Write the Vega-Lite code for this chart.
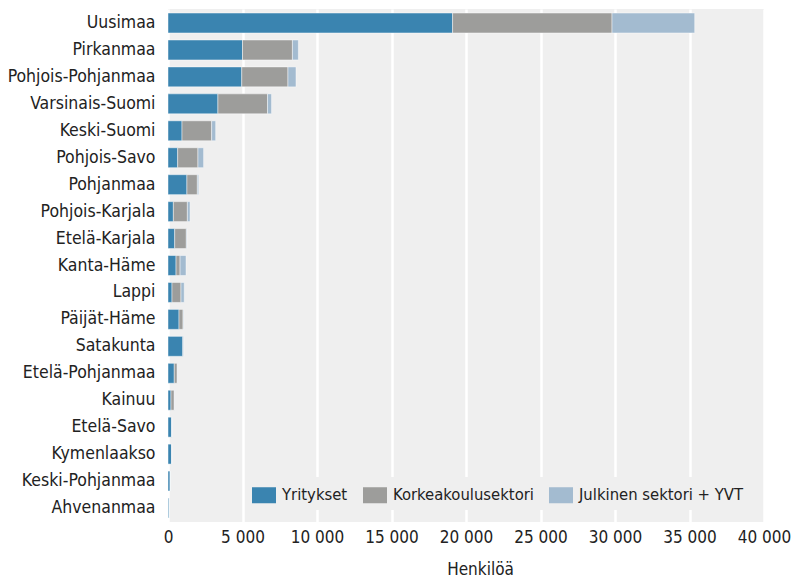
{
  "$schema": "https://vega.github.io/schema/vega-lite/v6.json",
  "width": 596,
  "height": 513,
  "autosize": {"type": "none"},
  "padding": {"left": 168, "top": 9, "right": 33, "bottom": 60},
  "background": "white",
  "config": {
    "font": "DejaVu Sans Condensed, Roboto, sans-serif",
    "view": {"fill": "#efefef", "stroke": null},
    "axis": {"labelFont": "DejaVu Sans Condensed, Roboto, sans-serif", "titleFont": "DejaVu Sans Condensed, Roboto, sans-serif", "labelColor": "#222222", "titleColor": "#222222"},
    "legend": {"labelFont": "DejaVu Sans Condensed, Roboto, sans-serif"}
  },
  "data": {
    "values": [
      {"alue": "Uusimaa", "sektori": "Yritykset", "henkilot": 19100},
      {"alue": "Uusimaa", "sektori": "Korkeakoulusektori", "henkilot": 10700},
      {"alue": "Uusimaa", "sektori": "Julkinen sektori + YVT", "henkilot": 5550},
      {"alue": "Pirkanmaa", "sektori": "Yritykset", "henkilot": 5000},
      {"alue": "Pirkanmaa", "sektori": "Korkeakoulusektori", "henkilot": 3350},
      {"alue": "Pirkanmaa", "sektori": "Julkinen sektori + YVT", "henkilot": 400},
      {"alue": "Pohjois-Pohjanmaa", "sektori": "Yritykset", "henkilot": 4950},
      {"alue": "Pohjois-Pohjanmaa", "sektori": "Korkeakoulusektori", "henkilot": 3100},
      {"alue": "Pohjois-Pohjanmaa", "sektori": "Julkinen sektori + YVT", "henkilot": 540},
      {"alue": "Varsinais-Suomi", "sektori": "Yritykset", "henkilot": 3350},
      {"alue": "Varsinais-Suomi", "sektori": "Korkeakoulusektori", "henkilot": 3330},
      {"alue": "Varsinais-Suomi", "sektori": "Julkinen sektori + YVT", "henkilot": 270},
      {"alue": "Keski-Suomi", "sektori": "Yritykset", "henkilot": 940},
      {"alue": "Keski-Suomi", "sektori": "Korkeakoulusektori", "henkilot": 1990},
      {"alue": "Keski-Suomi", "sektori": "Julkinen sektori + YVT", "henkilot": 270},
      {"alue": "Pohjois-Savo", "sektori": "Yritykset", "henkilot": 650},
      {"alue": "Pohjois-Savo", "sektori": "Korkeakoulusektori", "henkilot": 1360},
      {"alue": "Pohjois-Savo", "sektori": "Julkinen sektori + YVT", "henkilot": 380},
      {"alue": "Pohjanmaa", "sektori": "Yritykset", "henkilot": 1270},
      {"alue": "Pohjanmaa", "sektori": "Korkeakoulusektori", "henkilot": 700},
      {"alue": "Pohjanmaa", "sektori": "Julkinen sektori + YVT", "henkilot": 90},
      {"alue": "Pohjois-Karjala", "sektori": "Yritykset", "henkilot": 360},
      {"alue": "Pohjois-Karjala", "sektori": "Korkeakoulusektori", "henkilot": 940},
      {"alue": "Pohjois-Karjala", "sektori": "Julkinen sektori + YVT", "henkilot": 180},
      {"alue": "Etelä-Karjala", "sektori": "Yritykset", "henkilot": 450},
      {"alue": "Etelä-Karjala", "sektori": "Korkeakoulusektori", "henkilot": 780},
      {"alue": "Etelä-Karjala", "sektori": "Julkinen sektori + YVT", "henkilot": 45},
      {"alue": "Kanta-Häme", "sektori": "Yritykset", "henkilot": 540},
      {"alue": "Kanta-Häme", "sektori": "Korkeakoulusektori", "henkilot": 270},
      {"alue": "Kanta-Häme", "sektori": "Julkinen sektori + YVT", "henkilot": 400},
      {"alue": "Lappi", "sektori": "Yritykset", "henkilot": 270},
      {"alue": "Lappi", "sektori": "Korkeakoulusektori", "henkilot": 600},
      {"alue": "Lappi", "sektori": "Julkinen sektori + YVT", "henkilot": 220},
      {"alue": "Päijät-Häme", "sektori": "Yritykset", "henkilot": 740},
      {"alue": "Päijät-Häme", "sektori": "Korkeakoulusektori", "henkilot": 270},
      {"alue": "Päijät-Häme", "sektori": "Julkinen sektori + YVT", "henkilot": 40},
      {"alue": "Satakunta", "sektori": "Yritykset", "henkilot": 1000},
      {"alue": "Satakunta", "sektori": "Korkeakoulusektori", "henkilot": 20},
      {"alue": "Satakunta", "sektori": "Julkinen sektori + YVT", "henkilot": 40},
      {"alue": "Etelä-Pohjanmaa", "sektori": "Yritykset", "henkilot": 420},
      {"alue": "Etelä-Pohjanmaa", "sektori": "Korkeakoulusektori", "henkilot": 200},
      {"alue": "Etelä-Pohjanmaa", "sektori": "Julkinen sektori + YVT", "henkilot": 20},
      {"alue": "Kainuu", "sektori": "Yritykset", "henkilot": 200},
      {"alue": "Kainuu", "sektori": "Korkeakoulusektori", "henkilot": 220},
      {"alue": "Kainuu", "sektori": "Julkinen sektori + YVT", "henkilot": 20},
      {"alue": "Etelä-Savo", "sektori": "Yritykset", "henkilot": 250},
      {"alue": "Etelä-Savo", "sektori": "Korkeakoulusektori", "henkilot": 5},
      {"alue": "Etelä-Savo", "sektori": "Julkinen sektori + YVT", "henkilot": 20},
      {"alue": "Kymenlaakso", "sektori": "Yritykset", "henkilot": 240},
      {"alue": "Kymenlaakso", "sektori": "Korkeakoulusektori", "henkilot": 10},
      {"alue": "Kymenlaakso", "sektori": "Julkinen sektori + YVT", "henkilot": 20},
      {"alue": "Keski-Pohjanmaa", "sektori": "Yritykset", "henkilot": 150},
      {"alue": "Keski-Pohjanmaa", "sektori": "Korkeakoulusektori", "henkilot": 5},
      {"alue": "Keski-Pohjanmaa", "sektori": "Julkinen sektori + YVT", "henkilot": 10},
      {"alue": "Ahvenanmaa", "sektori": "Yritykset", "henkilot": 80},
      {"alue": "Ahvenanmaa", "sektori": "Korkeakoulusektori", "henkilot": 0},
      {"alue": "Ahvenanmaa", "sektori": "Julkinen sektori + YVT", "henkilot": 10}
    ]
  },
  "mark": {"type": "bar", "stroke": "white", "strokeOpacity": 0.45, "strokeWidth": 1},
  "encoding": {
    "y": {
      "field": "alue",
      "type": "nominal",
      "sort": ["Uusimaa", "Pirkanmaa", "Pohjois-Pohjanmaa", "Varsinais-Suomi", "Keski-Suomi", "Pohjois-Savo", "Pohjanmaa", "Pohjois-Karjala", "Etelä-Karjala", "Kanta-Häme", "Lappi", "Päijät-Häme", "Satakunta", "Etelä-Pohjanmaa", "Kainuu", "Etelä-Savo", "Kymenlaakso", "Keski-Pohjanmaa", "Ahvenanmaa"],
      "scale": {"paddingInner": 0.26, "paddingOuter": 0.15},
      "axis": {"title": null, "domain": false, "ticks": false, "labelPadding": 13, "labelFontSize": 17.5, "grid": false, "labelLimit": 200}
    },
    "x": {
      "field": "henkilot",
      "type": "quantitative",
      "stack": "zero",
      "scale": {"domain": [0, 40000], "nice": false},
      "axis": {
        "title": "Henkilöä",
        "values": [0, 5000, 10000, 15000, 20000, 25000, 30000, 35000, 40000],
        "labelExpr": "replace(format(datum.value, ',d'), ',', ' ')",
        "domain": false,
        "ticks": false,
        "grid": true,
        "gridColor": "white",
        "gridWidth": 2.5,
        "labelFontSize": 17,
        "labelPadding": 7,
        "labelFlush": false,
        "titleFontSize": 17,
        "titleFontWeight": "normal",
        "titlePadding": 16,
        "titleX": 312
      }
    },
    "color": {
      "field": "sektori",
      "type": "nominal",
      "scale": {
        "domain": ["Yritykset", "Korkeakoulusektori", "Julkinen sektori + YVT"],
        "range": ["#3a84b0", "#9d9d9b", "#a3bbd0"]
      },
      "legend": {
        "title": null,
        "orient": "none",
        "direction": "horizontal",
        "legendX": 78,
        "legendY": 468,
        "fillColor": "#efefef",
        "padding": 6,
        "symbolType": "M-1,-0.667L1,-0.667L1,0.667L-1,0.667Z",
        "symbolSize": 576,
        "symbolStrokeWidth": 0,
        "symbolOpacity": 1,
        "labelFontSize": 16.5,
        "labelColor": "#222222",
        "labelOffset": 6,
        "labelLimit": 300,
        "columnPadding": 15
      }
    },
    "order": {"field": "sektori", "sort": "descending"}
  }
}
